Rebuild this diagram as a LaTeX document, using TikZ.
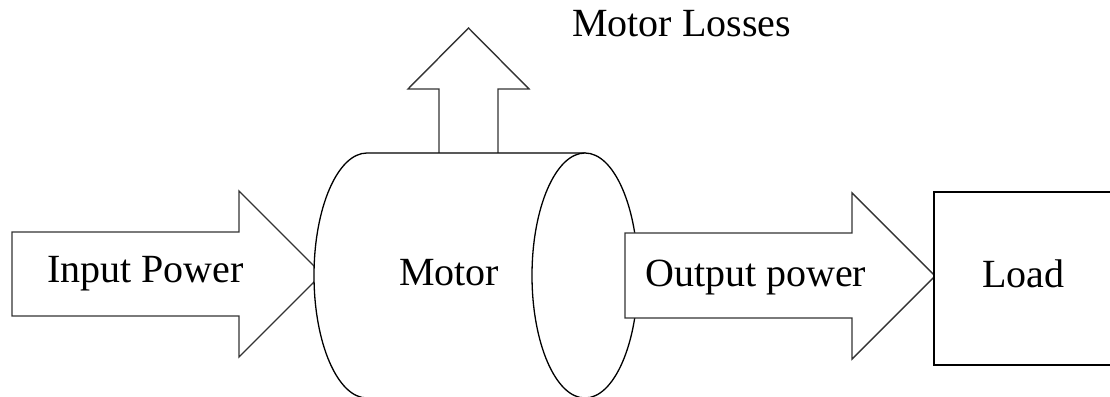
\documentclass[tikz,border=0pt]{standalone}
\usepackage{fontspec}
\setmainfont{Liberation Serif}
\begin{document}
\begin{tikzpicture}[x=1pt,y=1pt,
  flowarrow/.style={draw=black!80,line width=1.4pt,fill=white,line join=miter},
  outline/.style={draw=black,line width=1.3pt,fill=white},
  lbl/.style={anchor=base west,inner sep=0pt,font=\fontsize{40}{48}\selectfont}]
\useasboundingbox (0,0) rectangle (1110,396);

% input power arrow (tip hidden behind the motor)
\draw[flowarrow] (12,80) -- (12,164) -- (239,164) -- (239,205) -- (322,122)
  -- (239,39) -- (239,80) -- cycle;

% losses arrow leaving the top of the motor
\draw[flowarrow] (439,243) -- (439,307) -- (408,307) -- (468.5,368)
  -- (529,307) -- (498,307) -- (498,243);

% motor drawn as a cylinder, its lower edge running off the page
\draw[outline] (585,243) -- (367,243)
  arc[start angle=90,end angle=270,x radius=53pt,y radius=122.5pt]
  -- (585,-2) -- cycle;
\draw[outline] (585,120.5) ellipse[x radius=53pt,y radius=122.5pt];

% output power arrow
\draw[flowarrow] (625,78) -- (625,163) -- (852,163) -- (852,203) -- (935,120)
  -- (852,37) -- (852,78) -- cycle;

% load block, open towards the page edge
\draw[outline] (1140,204) -- (934,204) -- (934,31) -- (1140,31);

\node[lbl] (losses) at (572,359) {Motor Losses};
\node[lbl] (input) at (47,113) {Input Power};
\node[lbl] (motor) at (399,110) {Motor};
\node[lbl] (output) at (645,109) {Output power};
\node[lbl] (load) at (982,108) {Load};
\end{tikzpicture}
\end{document}
